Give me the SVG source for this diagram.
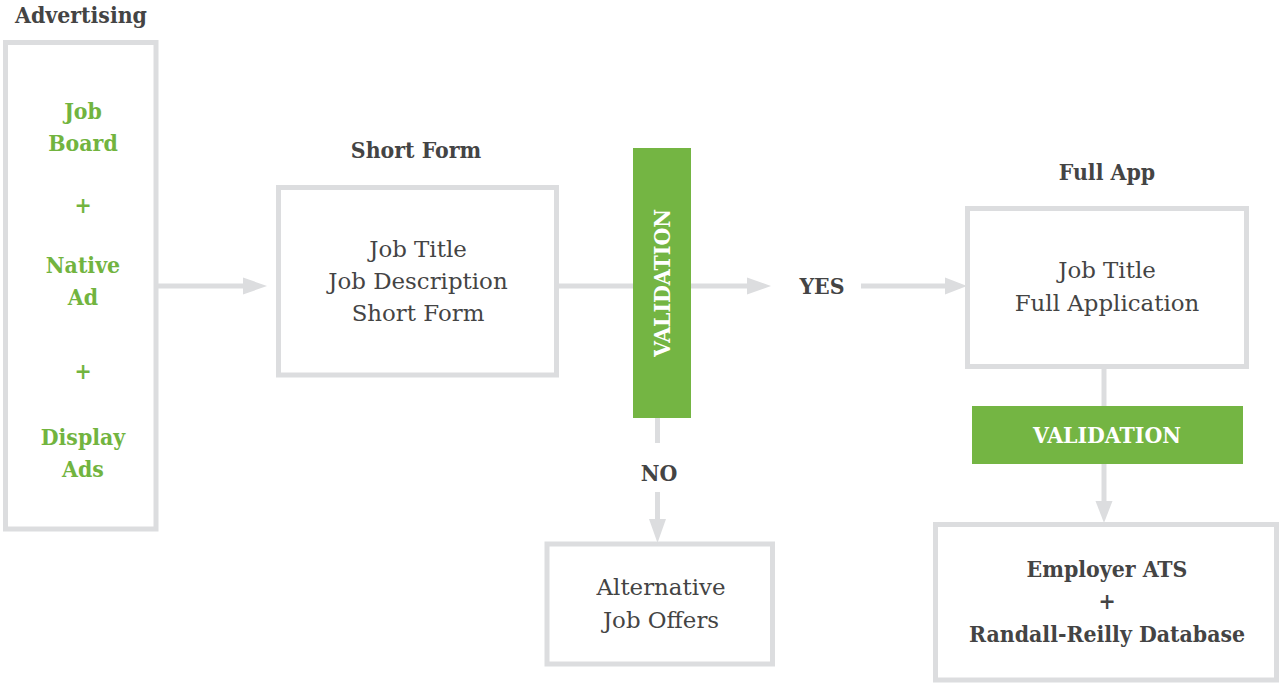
<svg xmlns="http://www.w3.org/2000/svg" width="1280" height="683" viewBox="0 0 1280 683">
  <style>
    .box { fill: #ffffff; stroke: #dcdddf; stroke-width: 5; }
    .bar { fill: #74b543; }
    .line { stroke: #dcdddf; stroke-width: 5; fill: none; }
    .head { fill: #dcdddf; }
    text { font-family: "DejaVu Serif", "Liberation Serif", serif; text-anchor: middle; }
    .title, .green, .bold, .white { font-family: "DejaVu Serif Condensed", "DejaVu Serif", serif; font-stretch: condensed; font-weight: bold; font-size: 22.8px; }
    .title, .bold { fill: #444444; }
    .green { fill: #72b43f; }
    .white { fill: #ffffff; }
    .body { font-size: 22.9px; fill: #444444; }
  </style>
  <rect width="1280" height="683" fill="#ffffff"/>

  <!-- connectors -->
  <g id="connectors">
    <line class="line" x1="158" y1="286" x2="246" y2="286"/>
    <polygon class="head" points="243,277.5 267,286 243,294.5"/>
    <line class="line" x1="559" y1="286" x2="633" y2="286"/>
    <line class="line" x1="691" y1="286" x2="750" y2="286"/>
    <polygon class="head" points="747,277.5 771,286 747,294.5"/>
    <line class="line" x1="861" y1="286" x2="948" y2="286"/>
    <polygon class="head" points="945,277.5 967,286 945,294.5"/>
    <line class="line" x1="657.5" y1="418" x2="657.5" y2="443"/>
    <line class="line" x1="657.5" y1="492" x2="657.5" y2="522"/>
    <polygon class="head" points="649,519 666,519 657.5,543"/>
    <line class="line" x1="1104" y1="368" x2="1104" y2="406"/>
    <line class="line" x1="1104" y1="464" x2="1104" y2="504"/>
    <polygon class="head" points="1095.5,501 1112.5,501 1104,523"/>
    <text class="bold" x="822" y="294">YES</text>
    <text class="bold" x="659" y="481">NO</text>
  </g>

  <g id="advertising">
    <text class="title" x="81" y="23">Advertising</text>
    <rect class="box" x="5.5" y="42.5" width="150.5" height="486.5"/>
    <text class="green" x="83" y="119">Job</text>
    <text class="green" x="83" y="151">Board</text>
    <text class="green" x="83" y="213">+</text>
    <text class="green" x="83" y="273">Native</text>
    <text class="green" x="83" y="305">Ad</text>
    <text class="green" x="83" y="379">+</text>
    <text class="green" x="83" y="445">Display</text>
    <text class="green" x="83" y="477">Ads</text>
  </g>

  <g id="short-form">
    <text class="title" x="416" y="158">Short Form</text>
    <rect class="box" x="278.5" y="187.5" width="278" height="187.5"/>
    <text class="body" x="418" y="257">Job Title</text>
    <text class="body" x="418" y="289">Job Description</text>
    <text class="body" x="418" y="321">Short Form</text>
  </g>

  <g id="validation-1">
    <rect class="bar" x="633" y="148" width="58" height="270"/>
    <text class="white" transform="translate(670 283) rotate(-90)" x="0" y="0">VALIDATION</text>
  </g>

  <g id="full-app">
    <text class="title" x="1107" y="180">Full App</text>
    <rect class="box" x="967.5" y="208.5" width="279" height="158"/>
    <text class="body" x="1107" y="278">Job Title</text>
    <text class="body" x="1107" y="311">Full Application</text>
  </g>

  <g id="validation-2">
    <rect class="bar" x="972" y="406" width="271" height="58"/>
    <text class="white" x="1107" y="443">VALIDATION</text>
  </g>

  <g id="alternative">
    <rect class="box" x="547" y="544" width="225.5" height="120"/>
    <text class="body" x="661" y="595">Alternative</text>
    <text class="body" x="661" y="628">Job Offers</text>
  </g>

  <g id="employer">
    <rect class="box" x="935.5" y="524.5" width="341" height="155.5"/>
    <text class="bold" x="1107" y="577">Employer ATS</text>
    <text class="bold" x="1107" y="609">+</text>
    <text class="bold" x="1107" y="642">Randall-Reilly Database</text>
  </g>
</svg>
